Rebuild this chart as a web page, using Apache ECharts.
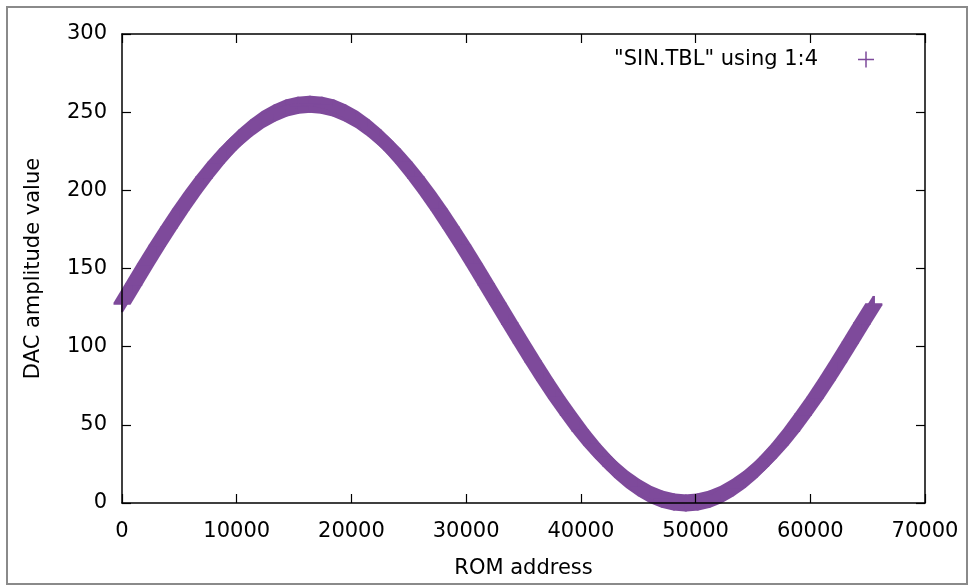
<!DOCTYPE html>
<html>
<head>
<meta charset="utf-8">
<script src="https://cdn.jsdelivr.net/npm/echarts@6/dist/echarts.min.js"></script>
<style>
html,body{margin:0;padding:0;background:#fff;}
#chart{width:968px;height:585px;}
</style>
</head>
<body>
<div id="chart"></div>
<script>
const addresses = [0, 1024, 2048, 3072, 4096, 5120, 6144, 7168, 8192, 9216, 10240, 11264, 12288, 13312, 14336, 15360,
  16384, 17408, 18432, 19456, 20480, 21504, 22528, 23552, 24576, 25600, 26624, 27648, 28672, 29696, 30720, 31744,
  32768, 33792, 34816, 35840, 36864, 37888, 38912, 39936, 40960, 41984, 43008, 44032, 45056, 46080, 47104, 48128,
  49152, 50176, 51200, 52224, 53248, 54272, 55296, 56320, 57344, 58368, 59392, 60416, 61440, 62464, 63488, 64512, 65535];
const values = [127.5, 140.0, 152.4, 164.5, 176.3, 187.6, 198.3, 208.4, 217.7, 226.1, 233.5, 239.9, 245.3, 249.5, 252.6, 254.4,
  255.0, 254.4, 252.6, 249.5, 245.3, 239.9, 233.5, 226.1, 217.7, 208.4, 198.3, 187.6, 176.3, 164.5, 152.4, 140.0,
  127.5, 115.0, 102.6, 90.5, 78.7, 67.4, 56.7, 46.6, 37.3, 28.9, 21.5, 15.1, 9.7, 5.5, 2.4, 0.6,
  0.0, 0.6, 2.4, 5.5, 9.7, 15.1, 21.5, 28.9, 37.3, 46.6, 56.7, 67.4, 78.7, 90.5, 102.6, 115.0, 127.0];
const xTicks = [0, 10000, 20000, 30000, 40000, 50000, 60000, 70000];
const yTicks = [0, 50, 100, 150, 200, 250, 300];
const seriesName = '"SIN.TBL" using 1:4';

const COLOR = '#7e4a9b';
const H = 8.5;  // half-length of plus arm (px)
const A = 1.0;  // half-thickness of plus arm (px)
const FONT = 'DejaVu Sans';

function convexHull(pts) {
  pts = pts.slice().sort((a, b) => a[0] - b[0] || a[1] - b[1]);
  const cross = (o, a, b) => (a[0] - o[0]) * (b[1] - o[1]) - (a[1] - o[1]) * (b[0] - o[0]);
  const lower = [];
  for (const p of pts) {
    while (lower.length >= 2 && cross(lower[lower.length - 2], lower[lower.length - 1], p) <= 0) lower.pop();
    lower.push(p);
  }
  const upper = [];
  for (let i = pts.length - 1; i >= 0; i--) {
    const p = pts[i];
    while (upper.length >= 2 && cross(upper[upper.length - 2], upper[upper.length - 1], p) <= 0) upper.pop();
    upper.push(p);
  }
  upper.pop(); lower.pop();
  return lower.concat(upper);
}
function corners(c, hw, hh) {
  return [[c[0] - hw, c[1] - hh], [c[0] + hw, c[1] - hh], [c[0] + hw, c[1] + hh], [c[0] - hw, c[1] + hh]];
}

const chart = echarts.init(document.getElementById('chart'), null, {renderer: 'canvas'});

const axisCommon = {
  type: 'value',
  axisLine: {show: true, onZero: false, lineStyle: {color: '#000', width: 1.5}},
  axisTick: {show: true, inside: true, length: 9, lineStyle: {color: '#000', width: 1.2}},
  splitLine: {show: false},
  z: 5
};
const plain = v => String(v);

const option = {
  animation: false,
  backgroundColor: '#fff',
  graphic: [{
    type: 'rect',
    shape: {x: 7, y: 7, width: 960, height: 577},
    style: {fill: 'none', stroke: '#8a8a8a', lineWidth: 2},
    z: 10
  }],
  grid: {left: 122, right: 43, top: 34, bottom: 82},
  legend: {
    right: 89, top: 44,
    align: 'right',
    itemWidth: 16, itemHeight: 16,
    data: [{name: seriesName, icon: 'path://M7.25,0H8.75V7.25H16V8.75H8.75V16H7.25V8.75H0V7.25H7.25Z'}],
    textStyle: {fontFamily: FONT, fontSize: 21, color: '#000', padding: [0, 35, 0, 0]},
    selectedMode: false
  },
  xAxis: [
    Object.assign({}, axisCommon, {
      position: 'bottom',
      min: xTicks[0], max: xTicks[xTicks.length - 1], interval: xTicks[1] - xTicks[0],
      name: 'ROM address', nameLocation: 'middle', nameGap: 55,
      nameTextStyle: {fontFamily: FONT, fontSize: 21, color: '#000'},
      axisLabel: {fontFamily: FONT, fontSize: 21, color: '#000', margin: 18, formatter: plain}
    }),
    Object.assign({}, axisCommon, {
      position: 'top',
      min: xTicks[0], max: xTicks[xTicks.length - 1], interval: xTicks[1] - xTicks[0],
      axisLabel: {show: false}
    })
  ],
  yAxis: [
    Object.assign({}, axisCommon, {
      position: 'left',
      min: yTicks[0], max: yTicks[yTicks.length - 1], interval: yTicks[1] - yTicks[0],
      name: 'DAC amplitude value', nameLocation: 'middle', nameGap: 78, nameRotate: 90,
      nameTextStyle: {fontFamily: FONT, fontSize: 21, color: '#000'},
      axisLabel: {fontFamily: FONT, fontSize: 21, color: '#000', margin: 15, formatter: plain}
    }),
    Object.assign({}, axisCommon, {
      position: 'right',
      min: yTicks[0], max: yTicks[yTicks.length - 1], interval: yTicks[1] - yTicks[0],
      axisLabel: {show: false}
    })
  ],
  series: [{
    name: seriesName,
    type: 'custom',
    xAxisIndex: 0, yAxisIndex: 0,
    z: 1,
    clip: false,
    itemStyle: {color: COLOR},
    encode: {x: 0, y: 1},
    data: addresses.map((a, i) => [a, values[i]]),
    renderItem: function (params, api) {
      const i = params.dataIndex;
      const p0 = api.coord([api.value(0), api.value(1)]);
      const p1 = (i < addresses.length - 1) ? api.coord([addresses[i + 1], values[i + 1]]) : p0;
      const st = {fill: COLOR};
      return {type: 'group', children: [
        {type: 'polygon', shape: {points: convexHull(corners(p0, A, H).concat(corners(p1, A, H)))}, style: st},
        {type: 'polygon', shape: {points: convexHull(corners(p0, H, A).concat(corners(p1, H, A)))}, style: st}
      ]};
    }
  }]
};

chart.setOption(option);
</script>
</body>
</html>
